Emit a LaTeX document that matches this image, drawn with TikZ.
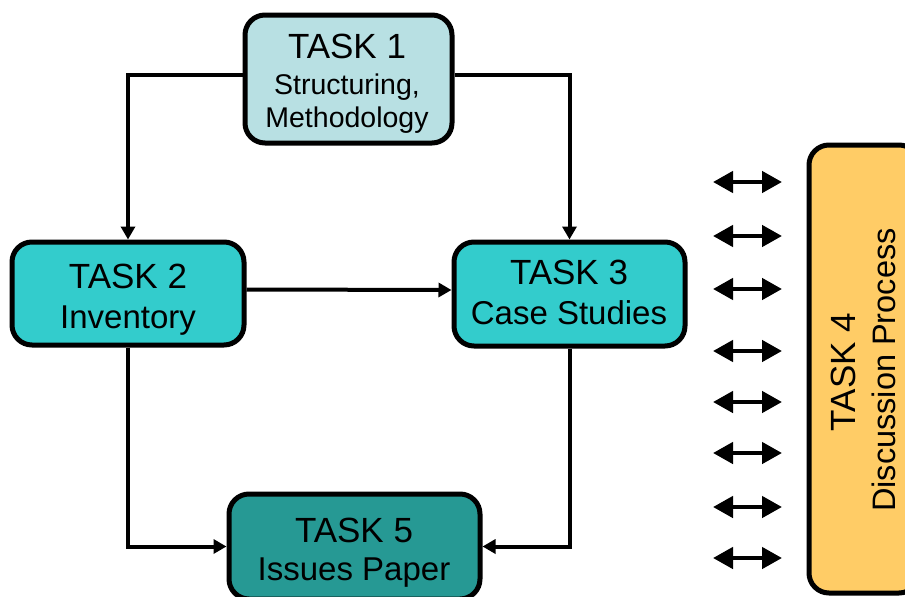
\documentclass[tikz,border=0pt]{standalone}
\usepackage{fontspec}
\setmainfont{Liberation Sans}
\usetikzlibrary{arrows.meta}
\definecolor{cOne}{HTML}{B8E0E3}
\definecolor{cTwo}{HTML}{33CCCC}
\definecolor{cFive}{HTML}{269994}
\definecolor{cFour}{HTML}{FFCC66}
\tikzset{
  taskbox/.style={draw=black, line width=5pt, rounded corners=20pt, inner sep=0pt},
  big/.style={font=\fontsize{35pt}{42pt}\selectfont, inner sep=0pt, anchor=base},
  sub/.style={font=\fontsize{33pt}{40pt}\selectfont, inner sep=0pt, anchor=base},
  small/.style={font=\fontsize{28.5pt}{34pt}\selectfont, inner sep=0pt, anchor=base},
  conn/.style={line width=4pt, -{Triangle[length=13pt,width=14pt]}},
  dbl/.style={line width=4.5pt, {Triangle[length=20pt,width=21pt]}-{Triangle[length=20pt,width=21pt]}}
}
\begin{document}
\begin{tikzpicture}[x=1pt,y=-1pt]
\useasboundingbox (0,0) rectangle (905,597);
\clip (0,0) rectangle (905,597);
% boxes
\node[taskbox, fill=cOne, minimum width=207pt, minimum height=128pt] (t1) at (348.5,79) {};
\node[taskbox, fill=cTwo, minimum width=232pt, minimum height=103pt] (t2) at (128,293.5) {};
\node[taskbox, fill=cTwo, minimum width=231pt, minimum height=104pt] (t3) at (569.5,294) {};
\node[taskbox, fill=cFive, minimum width=251pt, minimum height=105pt] (t5) at (354.5,546.5) {};
\node[taskbox, fill=cFour, minimum width=110pt, minimum height=448pt] (t4) at (864,369) {};
% texts
\node[big] (t1a) at (347,58) {TASK 1};
\node[small] (t1b) at (347,94) {Structuring,};
\node[small] (t1c) at (347,127) {Methodology};
\node[big] (t2a) at (128,288) {TASK 2};
\node[sub] (t2b) at (128,328) {Inventory};
\node[big] (t3a) at (569,284) {TASK 3};
\node[sub] (t3b) at (569,324) {Case Studies};
\node[big] (t5a) at (354,542) {TASK 5};
\node[sub] (t5b) at (354,580) {Issues Paper};
\node[big, rotate=90] (t4a) at (855,372) {TASK 4};
\node[font=\fontsize{32.5pt}{39pt}\selectfont, inner sep=0pt, anchor=base, rotate=90] (t4b) at (895,370) {Discussion Process};
% connectors
\draw[conn] ([yshift=4pt]t1.west) -| (t2.north);
\draw[conn] ([yshift=4pt]t1.east) -| (t3.north);
\draw[conn] ([yshift=4pt]t2.east) -- ([yshift=4pt]t3.west);
\draw[conn] (t2.south) |- (t5.west);
\draw[conn] (t3.south) |- (t5.east);
% double arrows
\foreach \i/\yy in {1/182,2/236,3/289,4/351,5/402,6/453,7/507,8/558}{
  \coordinate (da\i) at (713,\yy);
  \coordinate (db\i) at (782,\yy);
  \draw[dbl] (da\i) -- (db\i);
}
\end{tikzpicture}
\end{document}
